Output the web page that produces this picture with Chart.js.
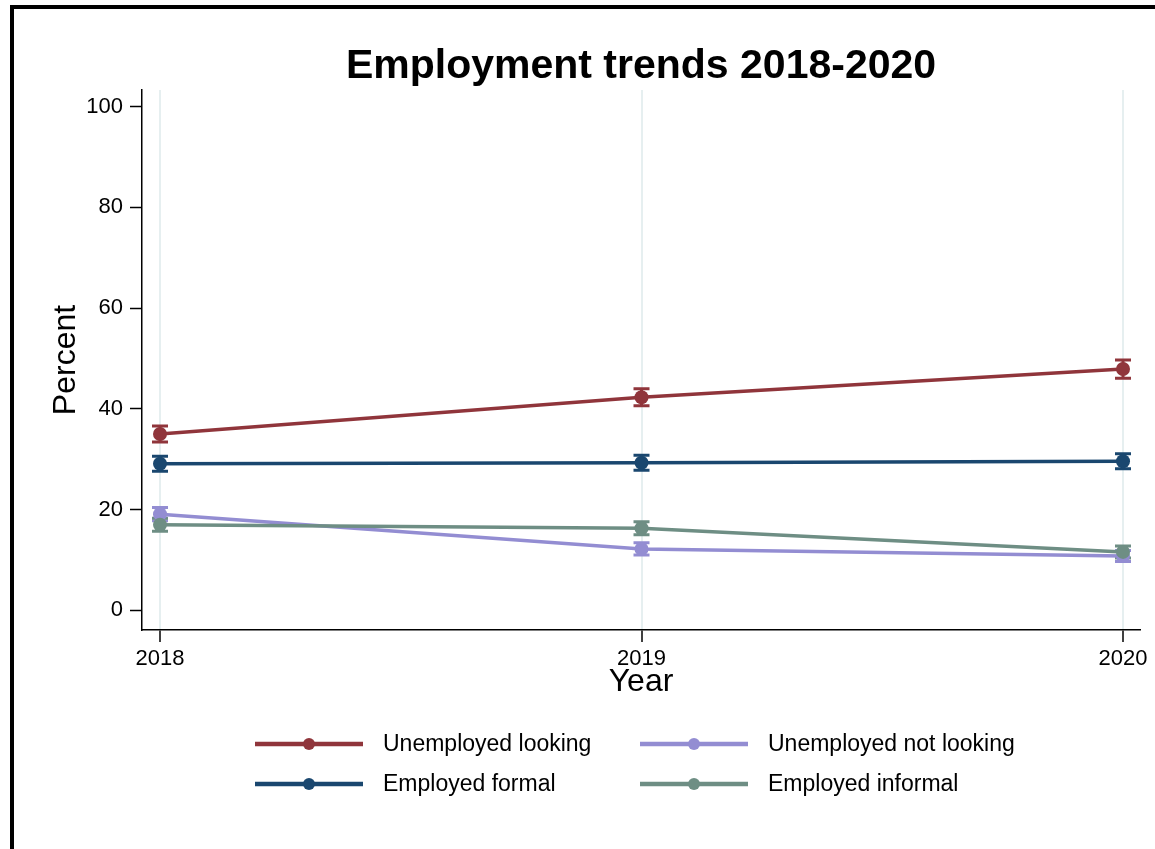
<!DOCTYPE html>
<html>
<head>
<meta charset="utf-8">
<script src="https://cdn.jsdelivr.net/npm/chart.js@4/dist/chart.umd.min.js"></script>
<style>
  html, body { margin: 0; padding: 0; background: #fff; }
  canvas { display: block; }
</style>
</head>
<body>
<canvas id="chart" width="1155" height="849"></canvas>
<script>
// -- Data --
const years = [2018, 2019, 2020];
const yTicks = [0, 20, 40, 60, 80, 100];

const seriesNames = ['Unemployed looking', 'Unemployed not looking', 'Employed formal', 'Employed informal'];
const seriesColors = ['#90353b', '#938dd2', '#1a476f', '#6e8e84'];

const unempLooking = [35.0, 42.3, 47.9];
const unempNotLooking = [19.1, 12.2, 10.8];
const empFormal = [29.1, 29.3, 29.6];
const empInformal = [17.0, 16.3, 11.6];

// half-width of the 95% CI bars
const unempLookingErr = [1.6, 1.7, 1.8];
const unempNotLookingErr = [1.3, 1.2, 1.1];
const empFormalErr = [1.5, 1.5, 1.5];
const empInformalErr = [1.3, 1.3, 1.2];

const seriesValues = [unempLooking, unempNotLooking, empFormal, empInformal];
const seriesErrors = [unempLookingErr, unempNotLookingErr, empFormalErr, empInformalErr];

const FONT = 'Arial, "Liberation Sans", sans-serif';

// -- Error bars, drawn from the scales --
const errorBars = {
    id: 'errorBars',
    beforeDatasetsDraw(chart) {
        const { ctx, scales: { x, y } } = chart;
        ctx.save();
        seriesValues.forEach((vals, i) => {
            ctx.strokeStyle = seriesColors[i];
            ctx.lineWidth = 3;
            vals.forEach((v, j) => {
                const px = x.getPixelForValue(years[j]);
                const lo = y.getPixelForValue(v - seriesErrors[i][j]);
                const hi = y.getPixelForValue(v + seriesErrors[i][j]);
                ctx.beginPath();
                ctx.moveTo(px, lo); ctx.lineTo(px, hi);
                ctx.moveTo(px - 8, lo); ctx.lineTo(px + 8, lo);
                ctx.moveTo(px - 8, hi); ctx.lineTo(px + 8, hi);
                ctx.stroke();
            });
        });
        ctx.restore();
    }
};

// -- Frame, title and legend --
const decorations = {
    id: 'decorations',
    afterDraw(chart) {
        const { ctx, chartArea } = chart;
        ctx.save();
        // outer frame
        ctx.fillStyle = '#000';
        ctx.fillRect(10, 5, 1145, 4);
        ctx.fillRect(10, 5, 4, 844);

        // title centred over the plot
        ctx.font = 'bold 41px ' + FONT;
        ctx.textAlign = 'center';
        ctx.textBaseline = 'alphabetic';
        ctx.fillText('Employment trends 2018-2020', (chartArea.left + chartArea.right) / 2, 78);

        // legend, two columns
        const cols = [255, 640];
        const rows = [744, 784];
        ctx.font = '23px ' + FONT;
        ctx.textAlign = 'left';
        ctx.textBaseline = 'middle';
        seriesNames.forEach((name, i) => {
            const cx = cols[i % 2];
            const cy = rows[Math.floor(i / 2)];
            ctx.strokeStyle = seriesColors[i];
            ctx.lineWidth = 4.5;
            ctx.beginPath();
            ctx.moveTo(cx, cy); ctx.lineTo(cx + 108, cy);
            ctx.stroke();
            ctx.fillStyle = seriesColors[i];
            ctx.beginPath();
            ctx.arc(cx + 54, cy, 6, 0, Math.PI * 2);
            ctx.fill();
            ctx.fillStyle = '#000';
            ctx.fillText(name, cx + 128, cy + 1);
        });
        ctx.restore();
    }
};

const datasets = seriesValues.map((vals, i) => ({
    label: seriesNames[i],
    data: vals.map((v, j) => ({ x: years[j], y: v })),
    borderColor: seriesColors[i],
    backgroundColor: seriesColors[i],
    borderWidth: 3.5,
    pointRadius: 7,
    pointHoverRadius: 7,
    pointBorderWidth: 0,
    order: 3 - i
}));

new Chart(document.getElementById('chart'), {
    type: 'line',
    data: { datasets },
    options: {
        responsive: false,
        animation: false,
        layout: { padding: { left: 44, top: 90, right: 15, bottom: 148 } },
        plugins: {
            legend: { display: false },
            title: { display: false },
            tooltip: { enabled: false }
        },
        scales: {
            x: {
                type: 'linear',
                min: 2017.9626,
                max: 2020.0353,
                afterBuildTicks: s => { s.ticks = years.map(v => ({ value: v })); },
                afterFit: s => { s.height = 71; },
                border: { display: true, color: '#000', width: 1.5 },
                grid: { color: '#e6eff0', lineWidth: 2, drawOnChartArea: true, drawTicks: true, tickLength: 12, tickColor: '#000', tickWidth: 1.5 },
                ticks: { color: '#000', font: { family: FONT, size: 22 }, padding: 4, maxRotation: 0, callback: v => String(v) },
                title: { display: true, text: 'Year', color: '#000', font: { family: FONT, size: 32 }, padding: { top: 0, bottom: 0 } }
            },
            y: {
                min: -3.9,
                max: 103.3,
                afterBuildTicks: s => { s.ticks = yTicks.map(v => ({ value: v })); },
                afterFit: s => { s.width = 98; },
                border: { display: true, color: '#000', width: 1.5 },
                grid: { drawOnChartArea: false, drawTicks: true, tickLength: 12, tickColor: '#000', tickWidth: 1.5 },
                ticks: { color: '#000', font: { family: FONT, size: 22 }, padding: 7 },
                title: { display: true, text: 'Percent', color: '#000', font: { family: FONT, size: 32 }, padding: { top: 3, bottom: 0 } }
            }
        }
    },
    plugins: [errorBars, decorations]
});
</script>
</body>
</html>
